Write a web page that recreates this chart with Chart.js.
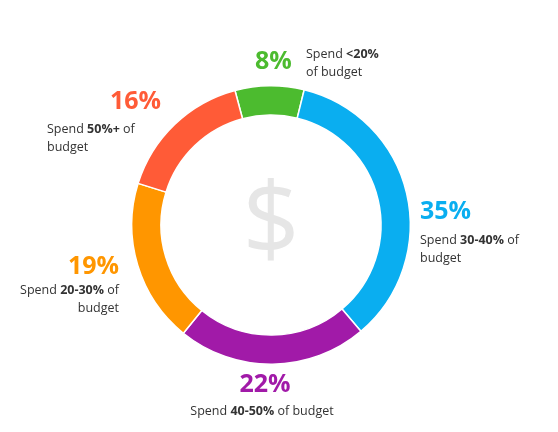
<!DOCTYPE html>
<html><head><meta charset="utf-8">
<script src="https://cdn.jsdelivr.net/npm/chart.js@4"></script>
<style>html,body{margin:0;padding:0;background:#fff}#w{position:relative;width:558px;height:432px}</style>
</head><body><div id="w"><canvas id="c" width="558" height="432"></canvas></div>
<script>
const categories = ["<20%", "30-40%", "40-50%", "20-30%", "50%+"];
const values = [8, 35, 22, 19, 16];
const colors = ["#4cbb2f", "#0aaef0", "#a11aa8", "#ff9600", "#ff5b37"];
const labels = [
  {x:255,y:62,align:"left",lines:[[["Spend ",0],["<20%",1]],[["of budget",0]]],lx:306,ly:54,lalign:"left"},
  {x:420,y:212,align:"left",lines:[[["Spend ",0],["30-40%",1],[" of",0]],[["budget",0]]],lx:420,ly:240,lalign:"left"},
  {x:265,y:385,align:"center",lines:[[["Spend ",0],["40-50%",1],[" of budget",0]]],lx:262,ly:411,lalign:"center"},
  {x:119,y:267,align:"right",lines:[[["Spend ",0],["20-30%",1],[" of",0]],[["budget",0]]],lx:119,ly:290,lalign:"right"},
  {x:161,y:102,align:"right",lines:[[["Spend ",0],["50%+",1],[" of",0]],[["budget",0]]],lx:47,ly:129,lalign:"left"}
];
const F = "'Open Sans', sans-serif";
const textPlugin = {
  id:"txt",
  afterDraw(chart){
    const ctx = chart.ctx;
    const m = chart.getDatasetMeta(0).data[0];
    ctx.save();
    ctx.fillStyle = "#e6e6e6";
    ctx.font = "100px " + F;
    ctx.textAlign = "center"; ctx.textBaseline = "middle";
    ctx.fillText("$", m.x, m.y + 2);
    labels.forEach((l,i)=>{
      ctx.font = "bold 25px " + F;
      ctx.fillStyle = colors[i];
      ctx.textAlign = l.align;
      ctx.fillText(values[i] + "%", l.x, l.y);
      ctx.fillStyle = "#333";
      l.lines.forEach((ln,j)=>{
        const w = ln.reduce((s,p)=>{ctx.font=(p[1]?"bold ":"")+"12.5px "+F;return s+ctx.measureText(p[0]).width;},0);
        let x = l.lalign==="left"?l.lx:l.lalign==="right"?l.lx-w:l.lx-w/2;
        ctx.textAlign="left";
        ln.forEach(p=>{ctx.font=(p[1]?"bold ":"")+"12.5px "+F;ctx.fillText(p[0],x,l.ly+j*18);x+=ctx.measureText(p[0]).width;});
      });
    });
    ctx.restore();
  }
};
new Chart(document.getElementById("c"),{
  type:"doughnut",
  data:{labels:categories,datasets:[{data:values,backgroundColor:colors,borderColor:"#fff",borderWidth:1.5}]},
  options:{responsive:false,animation:false,rotation:-15,cutout:"79%",
    layout:{padding:{left:131,right:147,top:81,bottom:63}},
    plugins:{legend:{display:false},tooltip:{enabled:false}}},
  plugins:[textPlugin]
});
</script></body></html>
